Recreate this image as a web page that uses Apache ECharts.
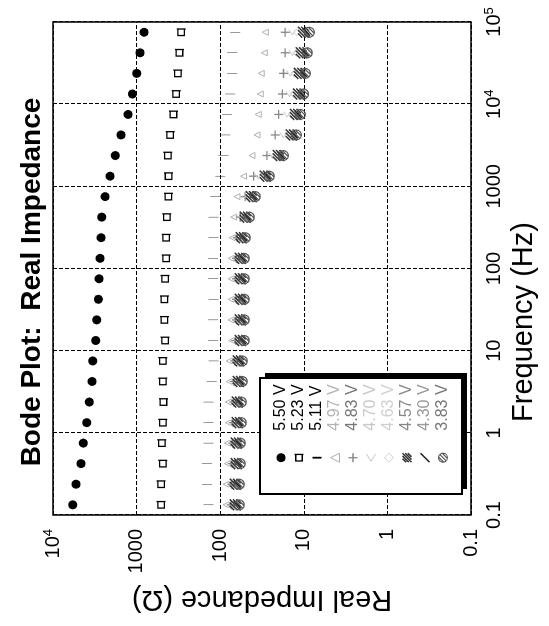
<!DOCTYPE html>
<html><head><meta charset="utf-8">
<script src="https://cdn.jsdelivr.net/npm/echarts@6/dist/echarts.min.js"></script>
<style>
html,body{margin:0;padding:0;background:#fff;overflow:hidden}
#wrap{position:relative;width:549px;height:626px;overflow:hidden;background:#fff}
#chart{position:absolute;left:0;top:0;width:626px;height:549px;transform-origin:0 0;transform:translateY(626px) rotate(-90deg)}
</style></head><body><div id="wrap"><div id="chart"></div></div>
<script>
// ---- data ----
const frequencyHz = [0.133,0.237,0.422,0.75,1.33,2.37,4.22,7.5,13.3,23.7,42.2,75,133,237,422,750,1330,2370,4220,7500,13300,23700,42200,75000];
const voltageLabels = ['5.50 V','5.23 V','5.11 V','4.97 V','4.83 V','4.70 V','4.63 V','4.57 V','4.30 V','3.83 V'];
const z_550 = [5810,5310,4625,4335,3945,3675,3410,3350,3080,3000,2865,2810,2735,2660,2610,2380,2075,1795,1535,1265,1122,995,908,813];
const z_523 = [509,509,485,499,485,477,485,485,456,465,465,456,443,443,435,416,415,423,397,362,336,321,307,293];
const z_511 = [138,144,144,138,138,138,126,120,122,122,120,122,122,120,120,115,100,91,87,83,76,72,72,66];
const z_497 = [85,85,82,82,80,80,78,78,73,74,74,74,74,72,69,63,52.6,41.7,36.3,35.1,33.2,32.3,29.7,28.9];
const z_483 = [74,73,72,71,70,69,68,67,65,64,64,64,64,62.5,57.6,50.2,39.9,27.6,22.0,20.0,18.0,17.5,16.7,16.7];
const z_470 = [70,70,68,68,66.1,66.1,64.3,64.3,60.8,60.8,60.8,60.8,60.8,59.2,54.5,47.5,35.1,23.8,17.6,15.8,14.9,14.5,13.7,13.7];
const z_463 = [68,68,66,66,64.3,64.3,62.5,62.5,59.2,59.2,59.2,59.2,59.2,57.6,51.6,45.0,31.4,22.0,15.3,14.1,13.4,13.0,12.3,12.0];
const z_457 = [66,66,64.3,64.3,62.5,62.5,60.8,60.8,57.6,57.6,57.6,57.6,57.6,56.1,50.2,42.5,28.9,20.2,14.1,12.6,11.6,11.3,10.7,10.1];
const z_430 = [62.5,62.5,60.8,60.8,59.2,59.2,57.6,57.6,54.5,54.5,54.5,54.5,54.5,53.0,47.5,40.3,27.4,18.6,13.0,11.6,10.7,10.1,9.6,9.3];
const z_383 = [59.2,59.2,57.6,57.6,56.1,56.1,54.5,54.5,51.6,51.6,51.6,51.6,51.6,50.2,45.0,38.1,25.9,17.6,12.3,11.0,10.1,9.6,9.1,8.6];
const freqTickLabels = ['0.1','1','10','100','1000','10^4','10^5'];
const impTickLabels = ['0.1','1','10','100','1000','10^4'];

const seriesValues = [z_550,z_523,z_511,z_497,z_483,z_470,z_463,z_457,z_430,z_383];

// ---- styles ----
const FONT = '"Liberation Sans", Arial, Helvetica, sans-serif';
const markerStyles = [
  {symbol:'circle', size:9, color:'#000', border:'#000', bw:0, text:'#000'},
  {symbol:'path://M1,1H9V9H1Z M9,-0.5V10.5', size:9, color:'rgba(0,0,0,0)', border:'#000', bw:1.3, text:'#000'},
  {symbol:'path://M0,0H2V10H0Z', size:[2,10], color:'#000', border:'#000', bw:0, text:'#000'},
  {symbol:'path://M0,10L5,0L10,10Z', size:6, color:'rgba(0,0,0,0)', border:'#b0b0b0', bw:1, text:'#b5b5b5'},
  {symbol:'path://M5,0V10M0,5H10', size:9, color:'rgba(0,0,0,0)', border:'#888', bw:1.3, text:'#777'},
  {symbol:'path://M8,0L0,5L8,10', size:7, color:'rgba(0,0,0,0)', border:'#c8c8c8', bw:1, text:'#c8c8c8'},
  {symbol:'path://M5,0L10,5L5,10L0,5Z', size:7, color:'rgba(0,0,0,0)', border:'#d0d0d0', bw:1, text:'#d0d0d0'},
  {symbol:'path://M0,4L4,0M0,7L7,0M0,10L10,0M3,10L10,3M6,10L10,6', size:11, color:'rgba(0,0,0,0)', border:'#333', bw:1.5, text:'#888'},
  {symbol:'path://M0,8L8,0', size:7, color:'rgba(0,0,0,0)', border:'#222', bw:1.6, text:'#999'},
  {symbol:'path://M5,0A5,5,0,1,1,5,10A5,5,0,1,1,5,0Z M1.5,8.5L8.5,1.5 M0.5,5.5L5.5,0.5 M4.5,9.5L9.5,4.5', size:10, color:'rgba(0,0,0,0)', border:'#555', bw:1.2, text:'#777'}
];

function tickFormatter(labels) {
  return function (v) {
    const idx = Math.round(Math.log10(v)) + 1;
    const lab = labels[idx];
    if (lab === undefined) return '';
    if (lab.indexOf('^') >= 0) {
      const p = lab.split('^');
      return '{b|' + p[0] + '}{s|' + p[1] + '}';
    }
    return '{b|' + lab + '}';
  };
}
const richTicks = {
  b: {fontSize: 20, fontFamily: FONT, color: '#000', lineHeight: 22},
  s: {fontSize: 13, fontFamily: FONT, color: '#000', verticalAlign: 'top', lineHeight: 13}
};
const splitStyle = {show: true, lineStyle: {color: '#000', type: [4, 2], width: 1}};

const series = seriesValues.map((vals, i) => ({
  name: voltageLabels[i],
  type: 'scatter',
  symbol: markerStyles[i].symbol,
  symbolSize: markerStyles[i].size,
  symbolKeepAspect: true,
  itemStyle: {color: markerStyles[i].color, borderColor: markerStyles[i].border, borderWidth: markerStyles[i].bw, opacity: 1},
  data: frequencyHz.map((f, k) => [f, vals[k]]),
  z: 2
}));

const chart = echarts.init(document.getElementById('chart'), null, {renderer: 'canvas'});
chart.setOption({
  animation: false,
  backgroundColor: '#fff',
  title: {
    text: 'Bode Plot:  Real Impedance',
    left: 339, top: 13, textAlign: 'center',
    textStyle: {fontSize: 28, fontWeight: 'bold', fontFamily: FONT, color: '#000'}
  },
  grid: {left: 111, right: 22, top: 53, bottom: 78, show: true, borderColor: '#000', borderWidth: 1.5, backgroundColor: 'transparent'},
  xAxis: {
    type: 'log', logBase: 10, min: 0.1, max: 100000,
    name: 'Frequency (Hz)', nameLocation: 'middle', nameGap: 38,
    nameTextStyle: {fontSize: 29, fontFamily: FONT, color: '#000', padding: [0, 107, 0, 0]},
    axisLine: {show: false}, axisTick: {show: false}, minorTick: {show: false},
    axisLabel: {margin: 12, formatter: tickFormatter(freqTickLabels), rich: richTicks},
    splitLine: splitStyle
  },
  yAxis: {
    type: 'log', logBase: 10, min: 0.1, max: 10000,
    name: 'Real Impedance (Ω)', nameLocation: 'middle', nameGap: 67,
    nameTextStyle: {fontSize: 29, fontFamily: FONT, color: '#000'},
    axisLine: {show: false}, axisTick: {show: false}, minorTick: {show: false},
    axisLabel: {margin: 14, formatter: tickFormatter(impTickLabels), rich: richTicks},
    splitLine: splitStyle
  },
  graphic: [
    {type: 'rect', z: 5, silent: true, shape: {x: 137, y: 265, width: 116, height: 202}, style: {fill: '#000'}},
    {type: 'rect', z: 6, silent: true, shape: {x: 132, y: 260, width: 116, height: 202}, style: {fill: '#fff', stroke: '#000', lineWidth: 2}}
  ],
  legend: {
    z: 10,
    orient: 'vertical', left: 153, top: 261,
    itemWidth: 44, itemHeight: 9, itemGap: 2,
    padding: [12, 10, 10, 10],
    backgroundColor: 'transparent', borderWidth: 0,
    textStyle: {fontSize: 16, fontFamily: FONT, color: '#000'},
    selectedMode: false,
    data: voltageLabels.map((n, i) => ({
      name: n,
      textStyle: {color: markerStyles[i].text},
      itemStyle: {color: markerStyles[i].color, borderColor: markerStyles[i].border, borderWidth: markerStyles[i].bw}
    }))
  },
  series: series
});
</script></body></html>
